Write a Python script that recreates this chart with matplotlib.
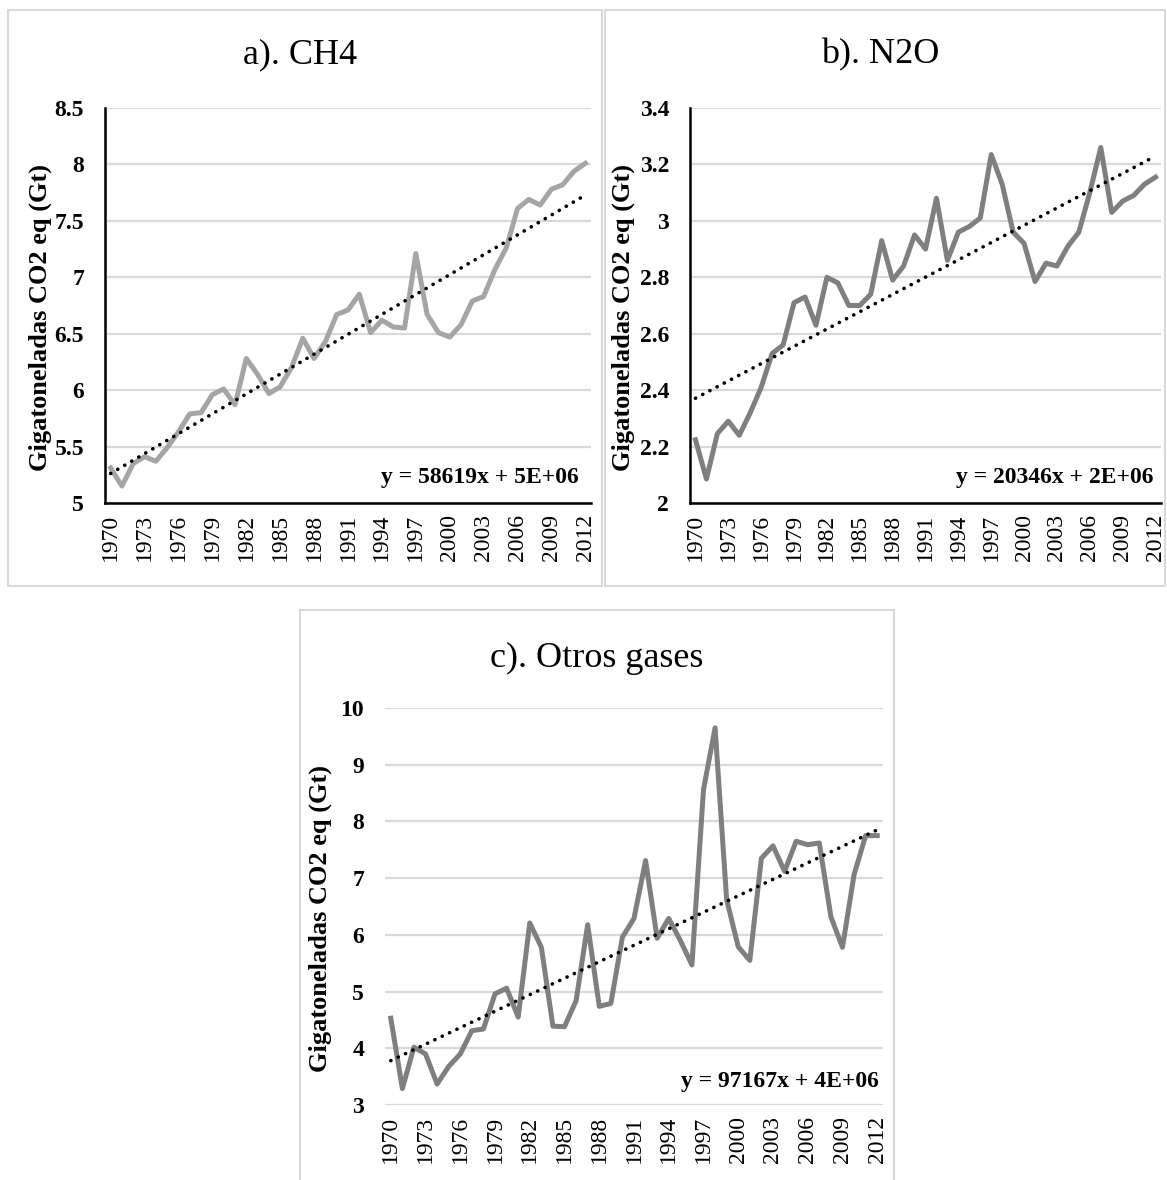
import numpy as np
import matplotlib
matplotlib.use("Agg")
import matplotlib.pyplot as plt
from matplotlib.patches import Rectangle

years = list(range(1970, 2013))

ch4 = [5.31, 5.15, 5.35, 5.41, 5.37, 5.49, 5.63, 5.79, 5.80, 5.96,
       6.01, 5.87, 6.28, 6.14, 5.97, 6.03, 6.20, 6.46, 6.28, 6.43,
       6.67, 6.71, 6.85, 6.51, 6.62, 6.56, 6.55, 7.21, 6.67, 6.51,
       6.47, 6.58, 6.79, 6.83, 7.07, 7.26, 7.61, 7.69, 7.64, 7.78,
       7.82, 7.94, 8.01]

n2o = [2.224, 2.085, 2.246, 2.29, 2.24, 2.32, 2.41, 2.53, 2.56, 2.71,
       2.73, 2.63, 2.80, 2.78, 2.70, 2.70, 2.74, 2.93, 2.79, 2.84,
       2.95, 2.90, 3.08, 2.86, 2.96, 2.98, 3.01, 3.235, 3.13, 2.96,
       2.92, 2.785, 2.85, 2.84, 2.91, 2.96, 3.10, 3.26, 3.03, 3.07,
       3.09, 3.13, 3.155]

otros = [4.53, 3.29, 4.02, 3.90, 3.37, 3.68, 3.90, 4.31, 4.34, 4.96,
         5.06, 4.55, 6.21, 5.78, 4.39, 4.38, 4.84, 6.18, 4.74, 4.79,
         5.96, 6.29, 7.31, 5.94, 6.29, 5.90, 5.47, 8.56, 9.65, 6.62,
         5.79, 5.55, 7.35, 7.57, 7.12, 7.65, 7.59, 7.62, 6.32, 5.78,
         7.06, 7.75, 7.75]

titles = ["a). CH4", "b). N2O", "c). Otros gases"]
equations = ["y = 58619x + 5E+06", "y = 20346x + 2E+06", "y = 97167x + 4E+06"]
ylabel = "Gigatoneladas CO2 eq (Gt)"
xticks = list(range(1970, 2013, 3))

plt.rcParams['font.family'] = ['Liberation Serif', 'DejaVu Serif']

W, H = 1167, 1180
fig = plt.figure(figsize=(W / 100, H / 100), dpi=100)


def fx(px):
    return px / W


def fy(py):
    return 1 - py / H


# frames around each chart
for x0, y0, x1, y1 in [(8, 10, 602, 586), (605, 10, 1165, 586), (300, 610, 894, 1185)]:
    fig.patches.append(Rectangle((fx(x0), fy(y1)), fx(x1 - x0), (y1 - y0) / H,
                                 transform=fig.transFigure, fill=False,
                                 edgecolor="#D9D9D9", linewidth=1.5))

panels = [
    dict(data=ch4, rect=(105, 108, 591, 503), ylim=(5, 8.5), step=0.5,
         color="#A5A5A5", spines=True, title_xy=(300, 55), eq_xy=(579, 477),
         ylab_x=40),
    dict(data=n2o, rect=(690, 108, 1161, 503), ylim=(2, 3.4), step=0.2,
         color="#7F7F7F", spines=True, title_xy=(880, 55), eq_xy=(1154, 477),
         ylab_x=623),
    dict(data=otros, rect=(385, 708, 883, 1105), ylim=(3, 10), step=1,
         color="#7F7F7F", spines=False, title_xy=(597, 658), eq_xy=(879, 1082),
         ylab_x=320),
]

for i, p in enumerate(panels):
    x0, y0, x1, y1 = p["rect"]
    ax = fig.add_axes([fx(x0), fy(y1), fx(x1 - x0), (y1 - y0) / H])
    yv = np.array(p["data"])
    xv = np.array(years)
    ax.plot(xv, yv, color=p["color"], linewidth=3.6, solid_joinstyle="round", zorder=3)
    # linear trend, like the Excel trendline
    k, b = np.polyfit(xv, yv, 1)
    ax.plot(xv, k * xv + b, color="black", linewidth=2.6, linestyle=(0, (0.05, 2.2)),
            dash_capstyle="round", zorder=4)

    ax.set_xlim(1969.5, 2012.5)
    ax.set_ylim(*p["ylim"])
    yt = np.arange(p["ylim"][0], p["ylim"][1] + 1e-9, p["step"])
    ax.set_yticks(yt)
    ax.set_yticklabels([f"{round(v, 2):g}" for v in yt], fontweight="bold", fontsize=17)
    ax.set_xticks(xticks)
    ax.set_xticklabels([str(t) for t in xticks], rotation=90, fontsize=17)
    ax.tick_params(axis="y", length=0, pad=15)
    ax.tick_params(axis="x", length=0, pad=8)
    ax.grid(axis="y", color="#D9D9D9", linewidth=1.6, zorder=0)
    ax.set_axisbelow(True)
    for s in ["top", "right"]:
        ax.spines[s].set_visible(False)
    if p["spines"]:
        ax.spines["left"].set_linewidth(1.8)
        ax.spines["bottom"].set_linewidth(1.8)
    else:
        ax.spines["left"].set_visible(False)
        ax.spines["bottom"].set_visible(False)

    fig.text(fx(p["title_xy"][0]), fy(p["title_xy"][1]), titles[i], fontsize=26,
             ha="center", va="center")
    fig.text(fx(p["eq_xy"][0]), fy(p["eq_xy"][1]), equations[i], fontsize=17,
             fontweight="bold", ha="right", va="center")
    fig.text(fx(p["ylab_x"]), fy((y0 + y1) / 2 + 12), ylabel, fontsize=19, fontweight="bold",
             rotation=90, ha="center", va="center")

fig.savefig("out.png", dpi=100)
